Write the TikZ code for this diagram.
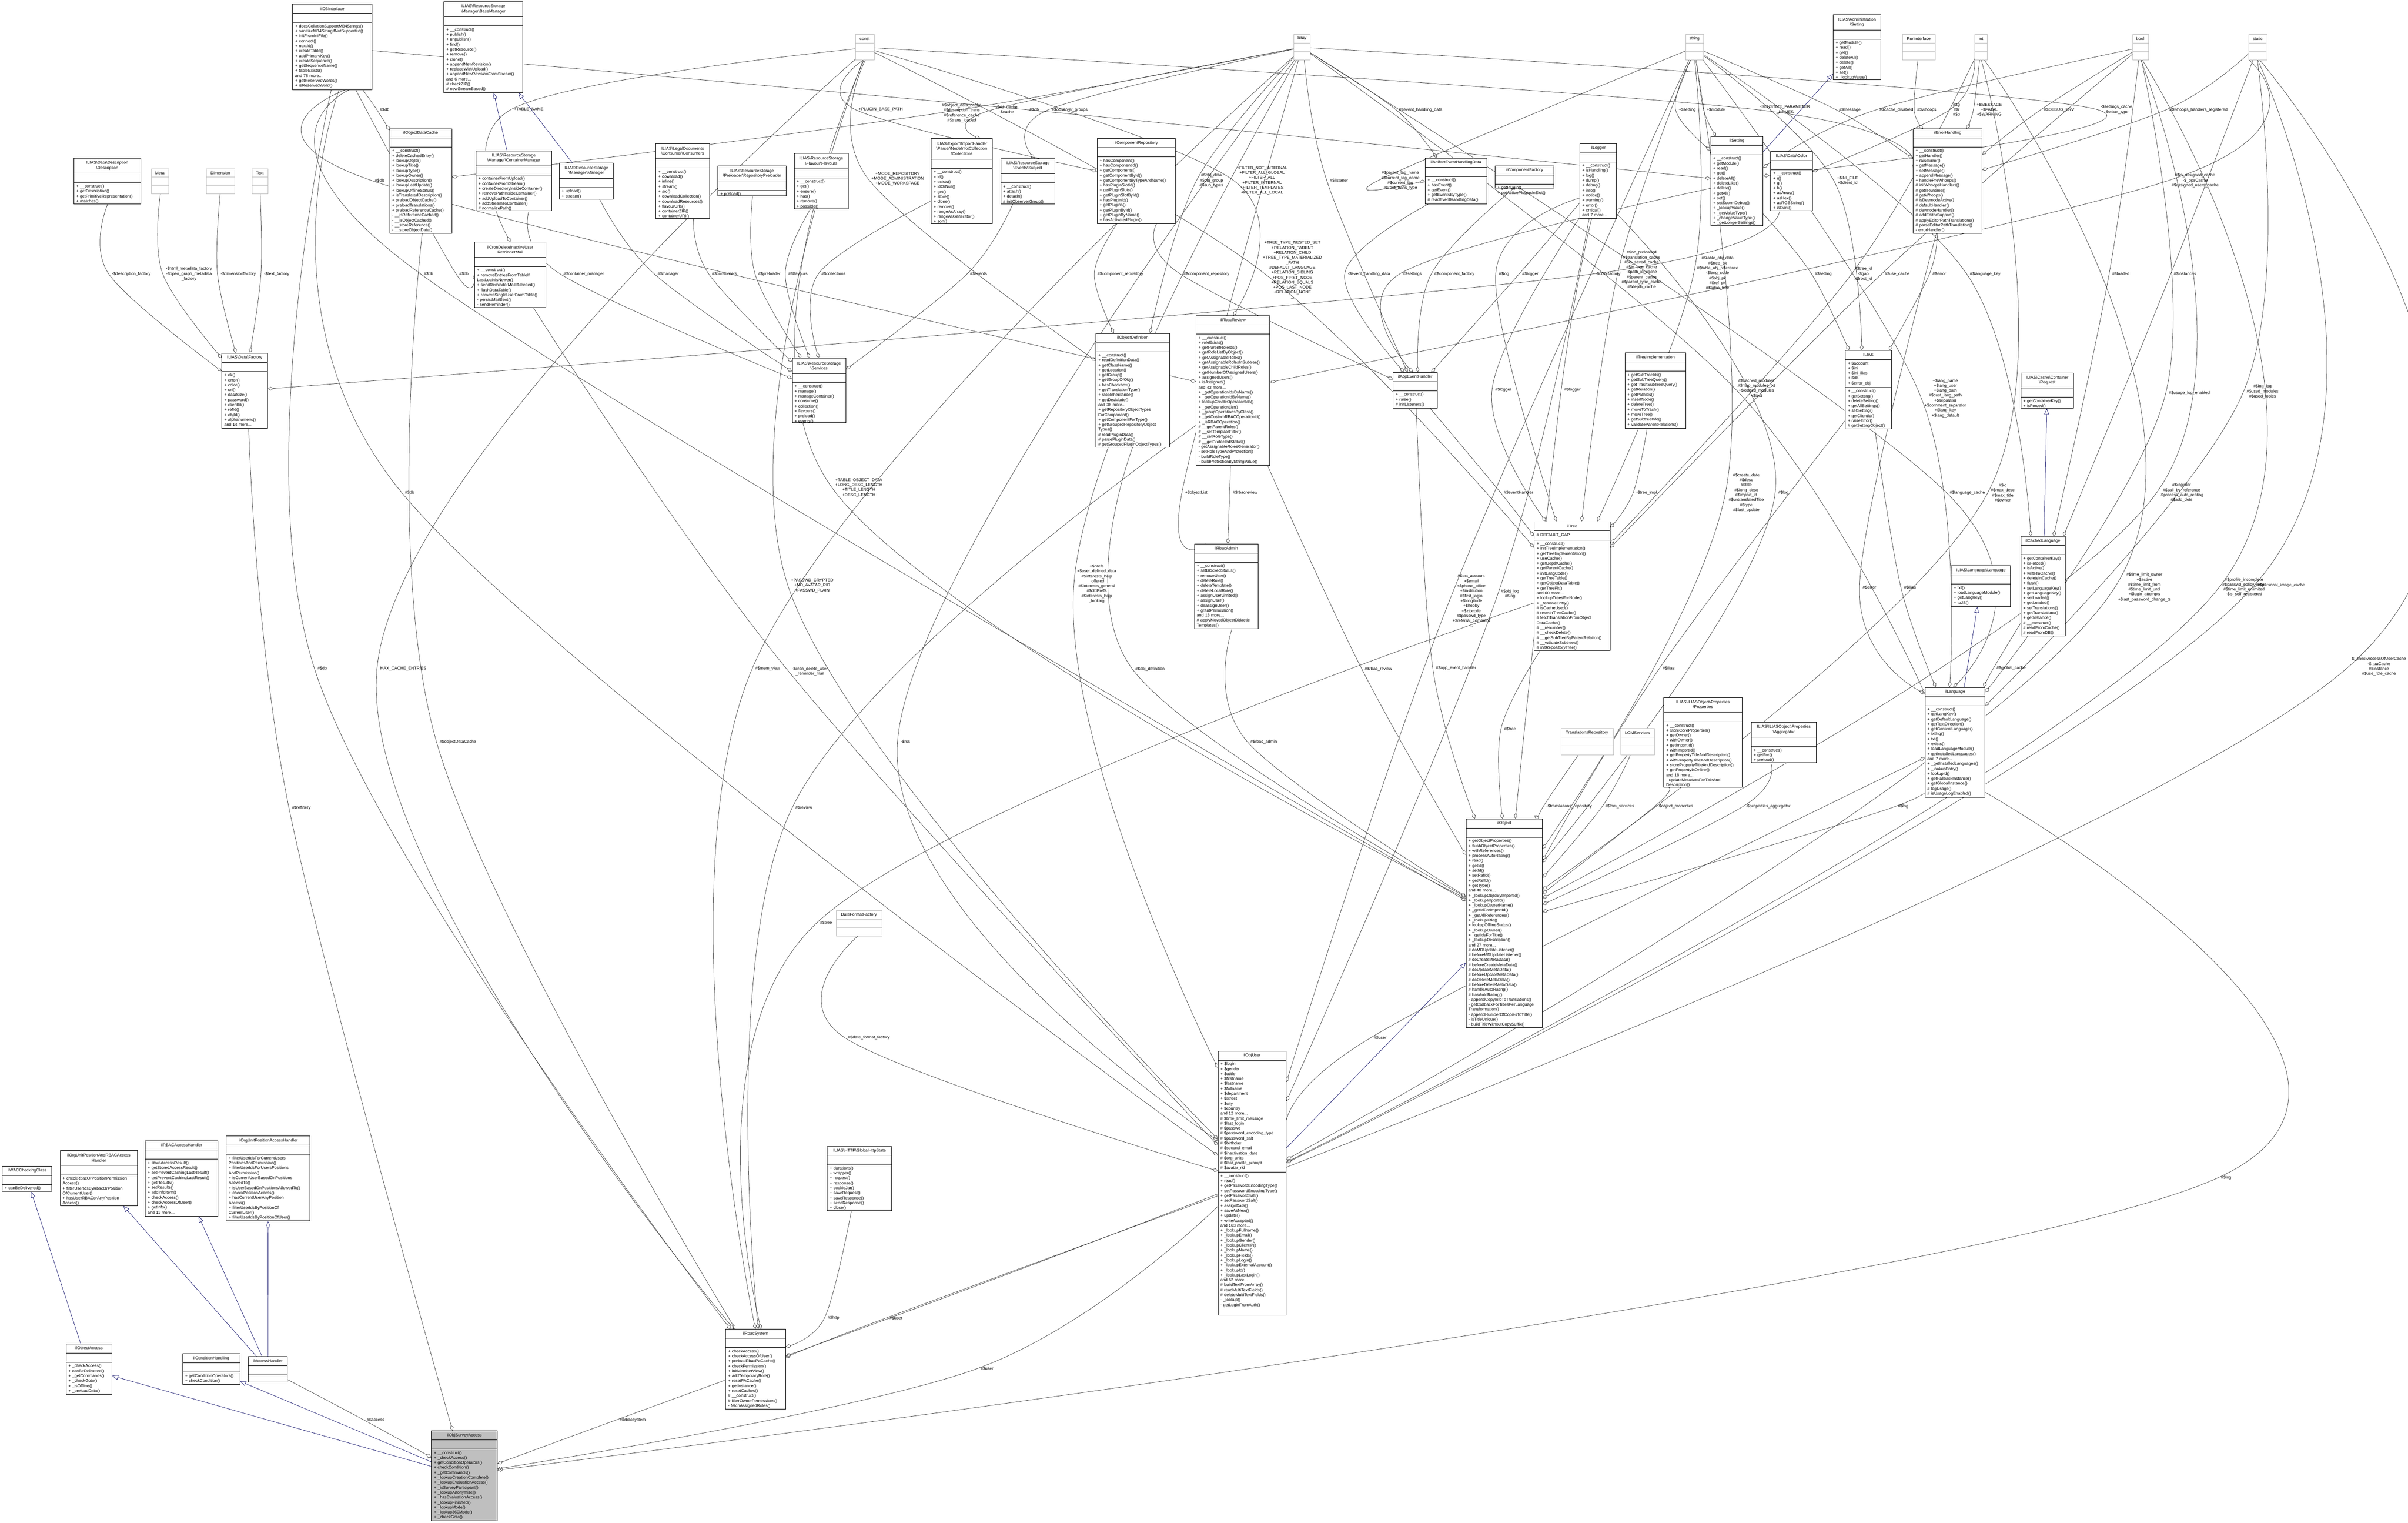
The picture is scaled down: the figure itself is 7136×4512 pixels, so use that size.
\documentclass[tikz,border=0pt]{standalone}
\usepackage{fontspec}
\setmainfont{Liberation Sans}
\usetikzlibrary{arrows.meta,calc}
\pgfdeclarelayer{bottom}
\pgfdeclarelayer{edges}
\pgfsetlayers{bottom,edges,main}
\definecolor{edgec}{HTML}{404040}
\definecolor{inhc}{HTML}{191970}
\definecolor{grayb}{HTML}{BFBFBF}
\newcommand\cf{\fontsize{3.5}{4.18}\selectfont}
\newcommand\bs{\textbackslash{}}
\newcommand\umlfill{white}
\tikzset{
 box/.style={draw=black,line width=0.35pt,inner sep=0,rectangle},
 secnode/.style={anchor=north west,inner xsep=2pt,inner ysep=1.5pt,font=\cf,align=left},
 aggline/.style={draw=edgec,line width=0.3pt,-{Diamond[open,length=5pt,width=3pt]}},
 inhline/.style={draw=inhc,line width=0.3pt,-{Triangle[open,length=5pt,width=4pt]}},
 elab/.style={font=\cf,align=center,inner sep=0.5pt}}
% name x1 y1 x2 y2 title titleheight attrs methods
\newcommand\umlbox[9]{%
 \pgfmathsetmacro\umlBW{(#4-#2)*0.28453}%
 \pgfmathsetmacro\umlBH{(#5-#3)*0.28453}%
 \pgfmathsetmacro\umlTH{#7*0.28453}%
 \pgfmathsetmacro\umlTW{\umlBW-4}%
 \node[box,fill=\umlfill,minimum width=\umlBW pt,minimum height=\umlBH pt,anchor=north west] (#1) at (#2,#3) {};
 \node[anchor=north west,inner sep=0,minimum height=\umlTH pt,text width=\umlBW pt,align=center,font=\cf] (#1-t) at (#2,#3) {#6};
 \draw[line width=0.35pt] (#1-t.south west) -- (#1-t.south east);
 \node[secnode,text width=\umlTW pt,minimum height=7.4pt] (#1-a) at (#1-t.south west) {#8};
 \draw[line width=0.35pt] (#1-a.south west) -- (#1-a.south east);
 \node[secnode,text width=\umlTW pt] (#1-m) at (#1-a.south west) {#9};}
\newcommand\graybox[6]{%
 \pgfmathsetmacro\umlBW{(#4-#2)*0.28453}%
 \pgfmathsetmacro\umlBH{(#5-#3)*0.28453}%
 \node[draw=grayb,fill=white,line width=0.35pt,inner sep=0,minimum width=\umlBW pt,minimum height=\umlBH pt,anchor=north west] (#1) at (#2,#3) {};
 \node[anchor=north,inner sep=0,minimum height=7.4pt,font=\cf] (#1-t) at ($(#2,#3)!0.5!(#4,#3)$) {#6};
 \pgfmathsetmacro\umlMY{#3+26+(#5-#3-26)/2}%
 \draw[grayb,line width=0.35pt] (#2,#3+26) -- (#4,#3+26) (#2,\umlMY) -- (#4,\umlMY);}
\newcommand\agg[6]{%
 \node[elab] (#3) at (#4,#5) {#6};
 \coordinate (#3-p) at ($(#3.west)+(-2pt,0)$);
 \path (#1) -- (#3-p) coordinate[pos=0] (#3-s);
 \path (#3-p) -- (#2) coordinate[pos=1] (#3-e);
 \begin{pgfonlayer}{edges}
 \draw[aggline] plot[smooth,tension=0.6] coordinates {(#3-s) (#3-p) (#3-e)};
 \end{pgfonlayer}}
\newcommand\inh[2]{\begin{pgfonlayer}{edges}\draw[inhline] (#1) -- (#2);\end{pgfonlayer}}
\begin{document}
\begin{tikzpicture}[x=0.01cm,y=-0.01cm]
\useasboundingbox (0,0) rectangle (7136,4512);
\begin{pgfonlayer}{bottom}
\fill[white] (0,0) rectangle (7136,4512);
\end{pgfonlayer}

% ---------- gray (undocumented) types
\graybox{gconst}{2535}{101}{2590}{177}{const}
\graybox{garray}{3833}{101}{3882}{177}{array}
\graybox{gstring}{4995}{101}{5048}{177}{string}
\graybox{grun}{5638}{101}{5734}{177}{RunInterface}
\graybox{gint}{5852}{101}{5889}{177}{int}
\graybox{gbool}{6319}{101}{6366}{177}{bool}
\graybox{gstatic}{6664}{101}{6717}{177}{static}
\graybox{gmeta}{448}{499}{499}{574}{Meta}
\graybox{gdim}{611}{499}{695}{574}{Dimension}
\graybox{gtext}{746}{499}{794}{574}{Text}
\graybox{gtrans}{4625}{2158}{4781}{2237}{TranslationsRepository}
\graybox{glom}{4803}{2158}{4902}{2237}{LOMServices}
\graybox{gdff}{2478}{2697}{2613}{2773}{DateFormatFactory}

% ---------- classes
\umlbox{dbi}{867}{12}{1102}{265}{ilDBInterface}{26}{}{+ doesCollationSupportMB4Strings()\\+ sanitizeMB4StringIfNotSupported()\\+ initFromIniFile()\\+ connect()\\+ nextId()\\+ createTable()\\+ addPrimaryKey()\\+ createSequence()\\+ getSequenceName()\\+ tableExists()\\and 78 more...\\+ getReservedWords()\\+ isReservedWord()}
\umlbox{basemgr}{1315}{4}{1548}{274}{ILIAS\bs ResourceStorage\\\bs Manager\bs BaseManager}{44}{}{+ \_\_construct()\\+ publish()\\+ unpublish()\\+ find()\\+ getResource()\\+ remove()\\+ clone()\\+ appendNewRevision()\\+ replaceWithUpload()\\+ appendNewRevisionFromStream()\\and 6 more...\\\# checkZIP()\\\# newStreamBased()}
\umlbox{odc}{1154}{381}{1338}{691}{ilObjectDataCache}{26}{}{+ \_\_construct()\\+ deleteCachedEntry()\\+ lookupObjId()\\+ lookupTitle()\\+ lookupType()\\+ lookupOwner()\\+ lookupDescription()\\+ lookupLastUpdate()\\+ lookupOfflineStatus()\\+ isTranslatedDescription()\\+ preloadObjectCache()\\+ preloadTranslations()\\+ preloadReferenceCache()\\- \_\_isReferenceCached()\\- \_\_isObjectCached()\\- \_\_storeReference()\\- \_\_storeObjectData()}
\umlbox{contmgr}{1410}{446}{1634}{624}{ILIAS\bs ResourceStorage\\\bs Manager\bs ContainerManager}{44}{}{+ containerFromUpload()\\+ containerFromStream()\\+ createDirectoryInsideContainer()\\+ removePathInsideContainer()\\+ addUploadToContainer()\\+ addStreamToContainer()\\\# normalizePath()}
\umlbox{mgr}{1657}{483}{1817}{589}{ILIAS\bs ResourceStorage\\\bs Manager\bs Manager}{44}{}{+ upload()\\+ stream()}
\umlbox{cron}{1406}{717}{1617}{910}{ilCronDeleteInactiveUser\\ReminderMail}{44}{}{+ \_\_construct()\\+ removeEntriesFromTableIf\\LastLoginIsNewer()\\+ sendReminderMailIfNeeded()\\+ flushDataTable()\\+ removeSingleUserFromTable()\\- persistMailSent()\\- sendReminder()}
\umlbox{desc}{218}{468}{416}{604}{ILIAS\bs Data\bs Description\\\bs Description}{44}{}{+ \_\_construct()\\+ getDescription()\\+ getPrimitiveRepresentation()\\+ matches()}
\umlbox{dfac}{657}{1046}{792}{1269}{ILIAS\bs Data\bs Factory}{26}{}{+ ok()\\+ error()\\+ color()\\+ uri()\\+ dataSize()\\+ password()\\+ clientId()\\+ refId()\\+ objId()\\+ alphanumeric()\\and 14 more...}
\umlbox{cons}{1943}{425}{2102}{647}{ILIAS\bs LegalDocuments\\\bs Consumer\bs Consumers}{44}{}{+ \_\_construct()\\+ download()\\+ inline()\\+ stream()\\+ src()\\+ downloadCollection()\\+ downloadResources()\\+ flavourUrls()\\+ containerZIP()\\+ containerURI()}
\umlbox{prel}{2127}{491}{2329}{580}{ILIAS\bs ResourceStorage\\\bs Preloader\bs RepositoryPreloader}{44}{}{+ preload()}
\umlbox{flav}{2353}{454}{2513}{618}{ILIAS\bs ResourceStorage\\\bs Flavour\bs Flavours}{44}{}{+ \_\_construct()\\+ get()\\+ ensure()\\+ has()\\+ remove()\\+ possible()}
\umlbox{coll}{2759}{410}{2940}{662}{ILIAS\bs Export\bs ImportHandler\\\bs Parser\bs NodeInfo\bs Collection\\\bs Collections}{60}{}{+ \_\_construct()\\+ id()\\+ exists()\\+ idOrNull()\\+ get()\\+ store()\\+ clone()\\+ remove()\\+ rangeAsArray()\\+ rangeAsGenerator()\\+ sort()}
\umlbox{subj}{2965}{469}{3125}{604}{ILIAS\bs ResourceStorage\\\bs Events\bs Subject}{44}{}{+ \_\_construct()\\+ attach()\\+ detach()\\\# initObserverGroup()}
\umlbox{comprepo}{3251}{410}{3482}{662}{ilComponentRepository}{26}{}{+ hasComponent()\\+ hasComponentId()\\+ getComponents()\\+ getComponentById()\\+ getComponentByTypeAndName()\\+ hasPluginSlotId()\\+ getPluginSlots()\\+ getPluginSlotById()\\+ hasPluginId()\\+ getPlugins()\\+ getPluginById()\\+ getPluginByName()\\+ hasActivatedPlugin()}
\umlbox{serv}{2347}{1061}{2506}{1252}{ILIAS\bs ResourceStorage\\\bs Services}{44}{}{+ \_\_construct()\\+ manage()\\+ manageContainer()\\+ consume()\\+ collection()\\+ flavours()\\+ preload()\\+ events()}
\umlbox{objdef}{3247}{987}{3465}{1324}{ilObjectDefinition}{26}{}{+ \_\_construct()\\+ readDefinitionData()\\+ getClassName()\\+ getLocation()\\+ getGroup()\\+ getGroupOfObj()\\+ hasCheckbox()\\+ getTranslationType()\\+ stopInheritance()\\+ getDevMode()\\and 38 more...\\+ getRepositoryObjectTypes\\ForComponent()\\+ getComponentForType()\\+ getGroupedRepositoryObject\\Types()\\\# readPluginData()\\\# parsePluginData()\\\# getGroupedPluginObjectTypes()}
\umlbox{aehd}{4223}{468}{4405}{603}{ilArtifactEventHandlingData}{26}{}{+ \_\_construct()\\+ hasEvent()\\+ getEvent()\\+ getEventsByType()\\\# readEventHandlingData()}
\umlbox{cfac}{4430}{491}{4604}{557}{ilComponentFactory}{26}{}{+ getPlugin()\\+ getActivePluginsInSlot()}
\umlbox{logger}{4681}{425}{4790}{647}{ilLogger}{26}{}{+ \_\_construct()\\+ isHandling()\\+ log()\\+ dump()\\+ debug()\\+ info()\\+ notice()\\+ warning()\\+ error()\\+ critical()\\and 7 more...}
\umlbox{setting}{5069}{404}{5224}{668}{ilSetting}{26}{}{+ \_\_construct()\\+ getModule()\\+ read()\\+ get()\\+ deleteAll()\\+ deleteLike()\\+ delete()\\+ getAll()\\+ set()\\+ setScormDebug()\\+ \_lookupValue()\\+ \_getValueType()\\+ \_changeValueType()\\+ \_getLongerSettings()}
\umlbox{color}{5247}{448}{5370}{624}{ILIAS\bs Data\bs Color}{26}{}{+ \_\_construct()\\+ r()\\+ g()\\+ b()\\+ asArray()\\+ asHex()\\+ asRGBString()\\+ isDark()}
\umlbox{rbacrev}{3544}{935}{3762}{1378}{ilRbacReview}{26}{}{+ \_\_construct()\\+ roleExists()\\+ getParentRoleIds()\\+ getRoleListByObject()\\+ getAssignableRoles()\\+ getAssignableRolesInSubtree()\\+ getAssignableChildRoles()\\+ getNumberOfAssignedUsers()\\+ assignedUsers()\\+ isAssigned()\\and 43 more...\\+ \_getOperationIdsByName()\\+ \_getOperationIdByName()\\+ lookupCreateOperationIds()\\+ \_getOperationList()\\+ \_groupOperationsByClass()\\+ \_getCustomRBACOperationId()\\+ \_isRBACOperation()\\\# \_\_getParentRoles()\\\# \_\_setTemplateFilter()\\\# \_\_setRoleType()\\\# \_\_getProtectedStatus()\\- getAssignableRolesGenerator()\\- setRoleTypeAndProtection()\\- buildRoleType()\\- buildProtectionByStringValue()}
\umlbox{aeh}{4128}{1103}{4258}{1209}{ilAppEventHandler}{26}{}{+ \_\_construct()\\+ raise()\\\# initListeners()}
\umlbox{treeimpl}{4815}{1045}{4995}{1269}{ilTreeImplementation}{26}{}{+ getSubTreeIds()\\+ getSubTreeQuery()\\+ getTrashSubTreeQuery()\\+ getRelation()\\+ getPathIds()\\+ insertNode()\\+ deleteTree()\\+ moveToTrash()\\+ moveTree()\\+ getSubtreeInfo()\\+ validateParentRelations()}
\umlbox{admset}{5432}{43}{5573}{236}{ILIAS\bs Administration\\\bs Setting}{44}{}{+ getModule()\\+ read()\\+ get()\\+ deleteAll()\\+ delete()\\+ getAll()\\+ set()\\+ \_lookupValue()}
\umlbox{errh}{5669}{381}{5873}{691}{ilErrorHandling}{26}{}{+ \_\_construct()\\+ getHandler()\\+ raiseError()\\+ getMessage()\\+ setMessage()\\+ appendMessage()\\+ handlePreWhoops()\\\# initWhoopsHandlers()\\\# getIlRuntime()\\\# getWhoops()\\\# isDevmodeActive()\\\# defaultHandler()\\\# devmodeHandler()\\\# addEditorSupport()\\\# applyEditorPathTranslations()\\\# parseEditorPathTranslation()\\- errorHandler()}
\umlbox{ilias}{5468}{1038}{5604}{1270}{ILIAS}{26}{+ \$account\\+ \$ini\\+ \$ini\_ilias\\+ \$db\\+ \$error\_obj}{+ \_\_construct()\\+ getSetting()\\+ deleteSetting()\\+ getAllSettings()\\+ setSetting()\\+ getClientId()\\+ raiseError()\\\# getSettingObject()}
\umlbox{req}{5988}{1104}{6144}{1209}{ILIAS\bs Cache\bs Container\\\bs Request}{44}{}{+ getContainerKey()\\+ isForced()}
\umlbox{tree}{4546}{1545}{4771}{1927}{ilTree}{26}{\# DEFAULT\_GAP}{+ \_\_construct()\\+ initTreeImplementation()\\+ getTreeImplementation()\\+ useCache()\\+ getDepthCache()\\+ getParentCache()\\+ initLangCode()\\+ getTreeTable()\\+ getObjectDataTable()\\+ getTreePk()\\and 60 more...\\+ lookupTreesForNode()\\+ \_removeEntry()\\\# isCacheUsed()\\\# resetInTreeCache()\\\# fetchTranslationFromObject\\DataCache()\\\# \_\_renumber()\\\# \_\_checkDelete()\\\# \_\_getSubTreeByParentRelation()\\\# \_\_validateSubtrees()\\\# initRepositoryTree()}
\umlbox{cachedlng}{5988}{1589}{6119}{1884}{ilCachedLanguage}{26}{}{+ getContainerKey()\\+ isForced()\\+ isActive()\\+ writeToCache()\\+ deleteInCache()\\+ flush()\\+ setLanguageKey()\\+ getLanguageKey()\\+ setLoaded()\\+ getLoaded()\\+ setTranslations()\\+ getTranslations()\\+ getInstance()\\\# \_\_construct()\\\# readFromCache()\\\# readFromDB()}
\umlbox{langlang}{5782}{1676}{5957}{1797}{ILIAS\bs Language\bs Language}{26}{}{+ txt()\\+ loadLanguageModule()\\+ getLangKey()\\+ toJS()}
\umlbox{lng}{5704}{2036}{5882}{2362}{ilLanguage}{26}{}{+ \_\_construct()\\+ getLangKey()\\+ getDefaultLanguage()\\+ getTextDirection()\\+ getContentLanguage()\\+ txtlng()\\+ txt()\\+ exists()\\+ loadLanguageModule()\\+ getInstalledLanguages()\\and 7 more...\\+ \_getInstalledLanguages()\\+ \_lookupEntry()\\+ lookupId()\\+ getFallbackInstance()\\+ getGlobalInstance()\\\# logUsage()\\\# isUsageLogEnabled()}
\umlbox{props}{4930}{2066}{5162}{2332}{ILIAS\bs ILIASObject\bs Properties\\\bs Properties}{44}{}{+ \_\_construct()\\+ storeCoreProperties()\\+ getOwner()\\+ withOwner()\\+ getImportId()\\+ withImportId()\\+ getPropertyTitleAndDescription()\\+ withPropertyTitleAndDescription()\\+ storePropertyTitleAndDescription()\\+ getPropertyIsOnline()\\and 18 more...\\- updateMetadataForTitleAnd\\Description()}
\umlbox{aggr}{5189}{2139}{5382}{2259}{ILIAS\bs ILIASObject\bs Properties\\\bs Aggregator}{44}{}{+ \_\_construct()\\+ getFor()\\+ preload()}
\umlbox{obj}{4344}{2426}{4570}{3044}{ilObject}{26}{}{+ getObjectProperties()\\+ flushObjectProperties()\\+ withReferences()\\+ processAutoRating()\\+ read()\\+ getId()\\+ setId()\\+ setRefId()\\+ getRefId()\\+ getType()\\and 40 more...\\+ \_lookupObjIdByImportId()\\+ \_lookupImportId()\\+ \_lookupOwnerName()\\+ \_getIdForImportId()\\+ \_getAllReferences()\\+ \_lookupTitle()\\+ lookupOfflineStatus()\\+ \_lookupOwner()\\+ \_getIdsForTitle()\\+ \_lookupDescription()\\and 27 more...\\\# doMDUpdateListener()\\\# beforeMDUpdateListener()\\\# doCreateMetaData()\\\# beforeCreateMetaData()\\\# doUpdateMetaData()\\\# beforeUpdateMetaData()\\\# doDeleteMetaData()\\\# beforeDeleteMetaData()\\\# handleAutoRating()\\\# hasAutoRating()\\- appendCopyInfoToTranslations()\\- getCallbackForTitlesPerLanguage\\Transformation()\\- appendNumberOfCopiesToTitle()\\- isTitleUnique()\\- buildTitleWithoutCopySuffix()}
\umlbox{rbacadm}{3539}{1611}{3727}{1862}{ilRbacAdmin}{26}{}{+ \_\_construct()\\+ setBlockedStatus()\\+ removeUser()\\+ deleteRole()\\+ deleteTemplate()\\+ deleteLocalRole()\\+ assignUserLimited()\\+ assignUser()\\+ deassignUser()\\+ grantPermission()\\and 18 more...\\\# applyMovedObjectDidactic\\Templates()}
\umlbox{http}{2451}{3396}{2642}{3587}{ILIAS\bs HTTP\bs GlobalHttpState}{26}{}{+ durations()\\+ wrapper()\\+ request()\\+ response()\\+ cookieJar()\\+ saveRequest()\\+ saveResponse()\\+ sendResponse()\\+ close()}
\umlbox{rbacsys}{2150}{3938}{2327}{4174}{ilRbacSystem}{26}{}{+ checkAccess()\\+ checkAccessOfUser()\\+ preloadRbacPaCache()\\+ checkPermission()\\+ initMemberView()\\+ addTemporaryRole()\\+ resetPACache()\\+ getInstance()\\+ resetCaches()\\\# \_\_construct()\\\# filterOwnerPermissions()\\- fetchAssignedRoles()}
\umlbox{user}{3609}{3114}{3811}{3896}{ilObjUser}{26}{+ \$login\\+ \$gender\\+ \$utitle\\+ \$firstname\\+ \$lastname\\+ \$fullname\\+ \$department\\+ \$street\\+ \$city\\+ \$country\\and 12 more...\\\# \$time\_limit\_message\\\# \$last\_login\\\# \$passwd\\\# \$password\_encoding\_type\\\# \$password\_salt\\\# \$birthday\\\# \$second\_email\\\# \$inactivation\_date\\\# \$org\_units\\\# \$last\_profile\_prompt\\\# \$avatar\_rid}{+ \_\_construct()\\+ read()\\+ getPasswordEncodingType()\\+ setPasswordEncodingType()\\+ getPasswordSalt()\\+ setPasswordSalt()\\+ assignData()\\+ saveAsNew()\\+ update()\\+ writeAccepted()\\and 163 more...\\+ \_lookupFullname()\\+ \_lookupEmail()\\+ \_lookupGender()\\+ \_lookupClientIP()\\+ \_lookupName()\\+ \_lookupFields()\\+ \_lookupLogin()\\+ \_lookupExternalAccount()\\+ \_lookupId()\\+ \_lookupLastLogin()\\and 62 more...\\\# buildTextFromArray()\\\# readMultiTextFields()\\\# deleteMultiTextFields()\\- \_lookup()\\- getLoginFromAuth()}
\renewcommand\umlfill{grayb}
\umlbox{survey}{1278}{4239}{1473}{4505}{ilObjSurveyAccess}{26}{}{+ \_\_construct()\\+ \_checkAccess()\\+ getConditionOperators()\\+ checkCondition()\\+ \_getCommands()\\+ \_lookupCreationComplete()\\+ \_lookupEvaluationAccess()\\+ \_isSurveyParticipant()\\+ \_lookupAnonymize()\\+ \_hasEvaluationAccess()\\+ \_lookupFinished()\\+ \_lookupMode()\\+ \_lookup360Mode()\\+ \_checkGoto()}
\renewcommand\umlfill{white}
\umlbox{wac}{6}{3455}{153}{3530}{ilWACCheckingClass}{26}{}{+ canBeDelivered()}
\umlbox{oupr}{178}{3408}{406}{3572}{ilOrgUnitPositionAndRBACAccess\\Handler}{44}{}{+ checkRbacOrPositionPermission\\Access()\\+ filterUserIdsByRbacOrPosition\\OfCurrentUser()\\+ hasUserRBACorAnyPosition\\Access()}
\umlbox{rbacah}{430}{3380}{645}{3603}{ilRBACAccessHandler}{26}{}{+ storeAccessResult()\\+ getStoredAccessResult()\\+ setPreventCachingLastResult()\\+ getPreventCachingLastResult()\\+ getResults()\\+ setResults()\\+ addInfoItem()\\+ checkAccess()\\+ checkAccessOfUser()\\+ getInfo()\\and 11 more...}
\umlbox{oupa}{670}{3366}{918}{3617}{ilOrgUnitPositionAccessHandler}{26}{}{+ filterUserIdsForCurrentUsers\\PositionsAndPermission()\\+ filterUserIdsForUsersPositions\\AndPermission()\\+ isCurrentUserBasedOnPositions\\AllowedTo()\\+ isUserBasedOnPositionsAllowedTo()\\+ checkPositionAccess()\\+ hasCurrentUserAnyPosition\\Access()\\+ filterUserIdsByPositionOf\\CurrentUser()\\+ filterUserIdsByPositionOfUser()}
\umlbox{objacc}{195}{3982}{331}{4131}{ilObjectAccess}{26}{}{+ \_checkAccess()\\+ canBeDelivered()\\+ \_getCommands()\\+ \_checkGoto()\\+ \_isOffline()\\+ \_preloadData()}
\umlbox{condh}{541}{4011}{710}{4102}{ilConditionHandling}{26}{}{+ getConditionOperators()\\+ checkCondition()}
\umlbox{acch}{735}{4019}{851}{4094}{ilAccessHandler}{26}{}{}

% ---------- inheritance
\inh{contmgr}{basemgr}
\inh{mgr}{basemgr}
\inh{setting}{admset}
\inh{cachedlng}{req}
\inh{lng}{langlang}
\inh{user}{obj}
\inh{objacc}{wac}
\inh{acch}{oupr}
\inh{acch}{rbacah}
\inh{acch}{oupa}
\inh{survey}{objacc}
\inh{survey}{condh}

% ---------- aggregations
\agg{desc}{dfac}{l1}{389}{812}{-\$description\_factory}
\agg{gmeta}{dfac}{l2}{560}{812}{-\$html\_metadata\_factory\\-\$open\_graph\_metadata\\\_factory}
\agg{gdim}{dfac}{l3}{706}{812}{-\$dimensionfactory}
\agg{gtext}{dfac}{l4}{820}{812}{-\$text\_factory}
\agg{color}{dfac}{l5}{4765}{812}{-\$colorfactory}
\agg{dbi}{odc}{l6}{1140}{325}{\#\$db}
\agg{dbi}{rbacrev}{l7}{1125}{535}{\#\$db}
\agg{dbi}{obj}{l8}{1270}{812}{\#\$db}
\agg{dbi}{cron}{l9}{1375}{812}{\#\$db}
\agg{dbi}{setting}{l10}{3065}{325}{\#\$db}
\agg{dbi}{user}{l11}{1214}{1460}{\#\$db}
\agg{dbi}{rbacsys}{l12}{955}{1981}{\#\$db}
\agg{gconst}{rbacsys}{l13}{1195}{1981}{MAX\_CACHE\_ENTRIES}
\agg{odc}{rbacsys}{l14}{1357}{2198}{\#\$objectDataCache}
\agg{dfac}{survey}{l15}{893}{2393}{\#\$refinery}
\agg{gconst}{cron}{l16}{1567}{325}{+TABLE\_NAME}
\agg{contmgr}{serv}{l17}{1730}{812}{\#\$container\_manager}
\agg{mgr}{serv}{l18}{1980}{812}{\#\$manager}
\agg{cons}{serv}{l19}{2147}{812}{\#\$consumers}
\agg{prel}{serv}{l20}{2280}{812}{\#\$preloader}
\agg{flav}{serv}{l21}{2365}{812}{\#\$flavours}
\agg{coll}{serv}{l22}{2470}{812}{\#\$collections}
\agg{subj}{serv}{l23}{2900}{812}{\#\$events}
\agg{gconst}{comprepo}{l24}{2610}{325}{+PLUGIN\_BASE\_PATH}
\agg{garray}{odc}{l25}{2850}{335}{\#\$object\_data\_cache\\\#\$description\_trans\\\#\$reference\_cache\\\#\$trans\_loaded}
\agg{garray}{coll}{l26}{2983}{325}{-\$rid\_cache\\-\$cache}
\agg{garray}{subj}{l27}{3170}{325}{\#\$observer\_groups}
\agg{gconst}{objdef}{l28}{2660}{530}{+MODE\_REPOSITORY\\+MODE\_ADMINISTRATION\\+MODE\_WORKSPACE}
\agg{comprepo}{objdef}{l29}{3320}{812}{\#\$component\_repository}
\agg{garray}{objdef}{l30}{3590}{535}{\#\$obj\_data\\\#\$obj\_group\\\#\$sub\_types}
\agg{gconst}{rbacrev}{l31}{3740}{535}{+FILTER\_NOT\_INTERNAL\\+FILTER\_ALL\_GLOBAL\\+FILTER\_ALL\\+FILTER\_INTERNAL\\+FILTER\_TEMPLATES\\+FILTER\_ALL\_LOCAL}
\agg{gconst}{tree}{l32}{3830}{800}{+TREE\_TYPE\_NESTED\_SET\\+RELATION\_PARENT\\+RELATION\_CHILD\\+TREE\_TYPE\_MATERIALIZED\\\_PATH\\\#DEFAULT\_LANGUAGE\\+RELATION\_SIBLING\\+POS\_FIRST\_NODE\\+RELATION\_EQUALS\\+POS\_LAST\_NODE\\+RELATION\_NONE\\...}
\agg{garray}{aeh}{l33}{3968}{535}{\#\$listener}
\agg{garray}{aehd}{l34}{4210}{325}{\#\$event\_handling\_data}
\agg{gstring}{aehd}{l35}{4150}{535}{\#\$parent\_tag\_name\\\#\$current\_tag\_name\\\#\$current\_tag\\\#\$root\_trans\_type}
\agg{comprepo}{aeh}{l36}{3575}{812}{\#\$component\_repository}
\agg{aehd}{aeh}{l37}{4057}{812}{-\$event\_handling\_data}
\agg{setting}{aeh}{l38}{4185}{812}{\#\$settings}
\agg{cfac}{aeh}{l39}{4310}{812}{\#\$component\_factory}
\agg{logger}{tree}{l40}{4457}{812}{\#\$log}
\agg{logger}{aeh}{l41}{4535}{812}{\#\$logger}
\agg{gstring}{tree}{l42}{4865}{800}{\#\$oc\_preloaded\\\#\$translation\_cache\\\#\$is\_saved\_cache\\\#\$in\_tree\_cache\\-\$path\_id\_cache\\\#\$parent\_cache\\\#\$parent\_type\_cache\\\#\$depth\_cache}
\agg{gstring}{tree}{l43}{5090}{810}{\#\$table\_obj\_data\\\#\$tree\_pk\\\#\$table\_obj\_reference\\-\$lang\_code\\\#\$obj\_pk\\\#\$ref\_pk\\\#\$table\_tree}
\agg{gstring}{setting}{l44}{5000}{325}{+\$setting}
\agg{gstring}{setting}{l45}{5085}{325}{+\$module}
\agg{gconst}{errh}{l46}{5290}{325}{-SENSTIVE\_PARAMETER\\\_NAMES}
\agg{gstring}{errh}{l47}{5482}{325}{\#\$message}
\agg{gbool}{setting}{l48}{5620}{325}{\#\$cache\_disabled}
\agg{grun}{errh}{l49}{5710}{325}{\#\$whoops}
\agg{gint}{color}{l50}{5798}{325}{\#\$g\\\#\$r\\\#\$b}
\agg{gint}{errh}{l51}{5895}{325}{+\$MESSAGE\\+\$FATAL\\+\$WARNING}
\agg{gbool}{errh}{l52}{6102}{325}{\#\$DEBUG\_ENV}
\agg{garray}{setting}{l53}{6272}{325}{-\$settings\_cache\\-\$value\_type}
\agg{gstatic}{errh}{l54}{6515}{325}{\#\$whoops\_handlers\_registered}
\agg{gstring}{ilias}{l55}{5475}{535}{+\$INI\_FILE\\+\$client\_id}
\agg{gstatic}{rbacrev}{l56}{6505}{535}{\#\$is\_assigned\_cache\\-\$\_opsCache\\\#\$assigned\_users\_cache}
\agg{setting}{ilias}{l57}{5403}{812}{\#\$setting}
\agg{gint}{tree}{l58}{5522}{812}{\#\$tree\_id\\-\$gap\\\#\$root\_id}
\agg{gbool}{tree}{l59}{5622}{812}{\#\$use\_cache}
\agg{errh}{ilias}{l60}{5747}{812}{\#\$error}
\agg{gstring}{cachedlng}{l61}{5883}{812}{\#\$language\_key}
\agg{gbool}{cachedlng}{l62}{6285}{812}{\#\$loaded}
\agg{gstatic}{cachedlng}{l63}{6475}{812}{\#\$instances}
\agg{gstring}{lng}{l64}{5765}{1180}{+\$lang\_name\\+\$lang\_user\\+\$lang\_path\\\#\$cust\_lang\_path\\+\$separator\\+\$comment\_separator\\+\$lang\_key\\+\$lang\_default}
\agg{gbool}{lng}{l65}{6488}{1165}{\#\$usage\_log\_enabled}
\agg{gstatic}{lng}{l66}{6705}{1160}{\#\$lng\_log\\\#\$used\_modules\\\#\$used\_topics}
\agg{logger}{tree}{l67}{4455}{1155}{\#\$logger}
\agg{logger}{obj}{l68}{4660}{1155}{\#\$logger}
\agg{garray}{lng}{l69}{5205}{1150}{\#\$cached\_modules\\\#\$map\_modules\_txt\\+\$loaded\_modules\\+\$text}
\agg{gstring}{obj}{l70}{5175}{1460}{\#\$create\_date\\\#\$desc\\\#\$title\\\#\$long\_desc\\\#\$import\_id\\\#\$untranslatedTitle\\\#\$type\\\#\$last\_update}
\agg{gint}{obj}{l71}{5935}{1460}{\#\$id\\\#\$max\_desc\\\#\$max\_title\\\#\$owner}
\agg{gbool}{obj}{l72}{6465}{1460}{\#\$register\\\#\$call\_by\_reference\\-\$process\_auto\_reating\\\#\$add\_dots}
\agg{aeh}{tree}{l73}{4500}{1460}{\#\$eventHandler}
\agg{treeimpl}{tree}{l74}{4880}{1460}{-\$tree\_impl}
\agg{logger}{obj}{l75}{5285}{1460}{\#\$log}
\agg{garray}{lng}{l76}{5830}{1460}{\#\$language\_cache}
\agg{gstring}{user}{l77}{4360}{1780}{\#\$ext\_account\\+\$email\\+\$phone\_office\\+\$institution\\\#\$first\_login\\+\$longitude\\+\$hobby\\+\$zipcode\\\#\$passwd\_type\\+\$referral\_comment\\...}
\agg{logger}{user}{l78}{4475}{1760}{\#\$obj\_log\\\#\$log}
\agg{errh}{lng}{l79}{5540}{1740}{\#\$error}
\agg{ilias}{lng}{l80}{5660}{1740}{\#\$ilias}
\agg{gint}{user}{l81}{6355}{1740}{\#\$time\_limit\_owner\\+\$active\\\#\$time\_limit\_from\\\#\$time\_limit\_until\\+\$login\_attempts\\+\$last\_password\_change\_ts}
\agg{gbool}{user}{l82}{6650}{1740}{\#\$profile\_incomplete\\\#\$passwd\_policy\_reset\\\#\$time\_limit\_unlimited\\-\$is\_self\_registered}
\agg{gstatic}{user}{l83}{6760}{1735}{\#\$personal\_image\_cache}
\agg{cachedlng}{lng}{l84}{5960}{1980}{\#\$global\_cache}
\agg{ilias}{obj}{l85}{4945}{1980}{\#\$ilias}
\agg{aeh}{obj}{l86}{4315}{1980}{\#\$app\_event\_handler}
\agg{gstatic}{rbacsys}{l87}{7050}{1975}{\$\_checkAccessOfUserCache\\-\$\_paCache\\\#\$instance\\\#\$use\_role\_cache}
\agg{tree}{obj}{l88}{4475}{2160}{\#\$tree}
\agg{gtrans}{obj}{l89}{4650}{2390}{-\$translations\_repository}
\agg{glom}{obj}{l90}{4800}{2390}{\#\$lom\_services}
\agg{props}{obj}{l91}{4965}{2390}{-\$object\_properties}
\agg{aggr}{obj}{l92}{5240}{2390}{-\$properties\_aggregator}
\agg{lng}{obj}{l93}{5640}{2390}{\#\$lng}
\agg{lng}{survey}{l94}{6597}{3490}{\#\$lng}
\agg{gconst}{obj}{l95}{2545}{1445}{+TABLE\_OBJECT\_DATA\\+LONG\_DESC\_LENGTH\\+TITLE\_LENGTH\\+DESC\_LENGTH}
\agg{gconst}{user}{l96}{2407}{1735}{+PASSWD\_CRYPTED\\+NO\_AVATAR\_RID\\+PASSWD\_PLAIN}
\agg{garray}{rbacsys}{l97}{2275}{1981}{\#\$mem\_view}
\agg{cron}{user}{l98}{2400}{1990}{-\$cron\_delete\_user\\\_reminder\_mail}
\agg{garray}{user}{l99}{2683}{2198}{-\$rss}
\agg{rbacrev}{rbacsys}{l100}{2382}{2393}{\#\$review}
\agg{tree}{rbacsys}{l101}{2448}{2734}{\#\$tree}
\agg{garray}{user}{l102}{3250}{1730}{+\$prefs\\+\$user\_defined\_data\\\#\$interests\_help\\\_offered\\\#\$interests\_general\\\#\$oldPrefs\\\#\$interests\_help\\\_looking}
\agg{garray}{rbacadm}{l103}{3545}{1460}{+\$objectList}
\agg{rbacrev}{rbacadm}{l104}{3690}{1460}{\#\$rbacreview}
\agg{objdef}{obj}{l105}{3408}{1982}{\#\$obj\_definition}
\agg{rbacrev}{obj}{l106}{4085}{1982}{\#\$rbac\_review}
\agg{rbacadm}{obj}{l107}{3745}{2198}{\#\$rbac\_admin}
\agg{gdff}{user}{l108}{2575}{3075}{\#\$date\_format\_factory}
\agg{user}{lng}{l109}{4090}{3075}{\#\$user}
\agg{http}{rbacsys}{l110}{2470}{3905}{\#\$http}
\agg{user}{rbacsys}{l111}{2655}{3905}{\#\$user}
\agg{user}{survey}{l112}{2925}{4055}{\#\$user}
\agg{acch}{survey}{l113}{1113}{4207}{\#\$access}
\agg{rbacsys}{survey}{l114}{1875}{4207}{\#\$rbacsystem}
\end{tikzpicture}
\end{document}
